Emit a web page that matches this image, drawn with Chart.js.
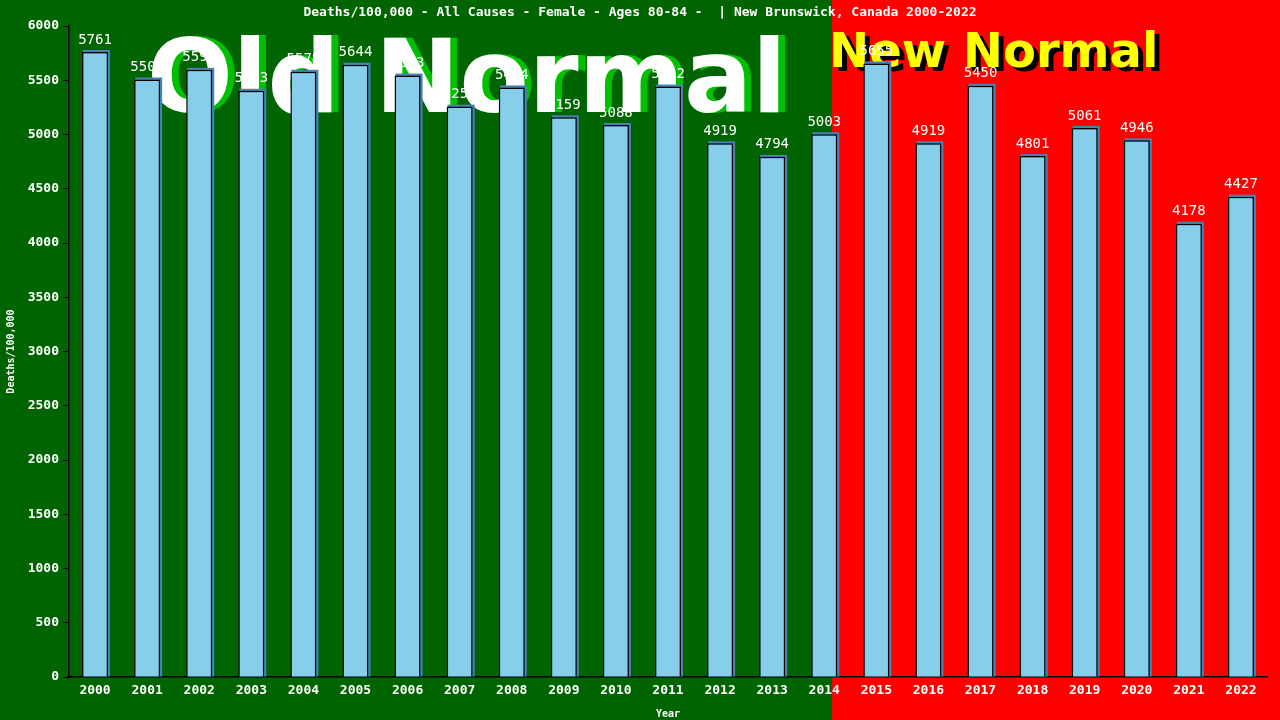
<!DOCTYPE html>
<html><head><meta charset="utf-8">
<script src="https://cdn.jsdelivr.net/npm/chart.js@4"></script>
<style>html,body{margin:0;padding:0;background:#006400;}#w{width:1280px;height:720px;}</style>
</head><body><div id="w"><canvas id="c" width="1280" height="720"></canvas></div>
<script>
const years = ["2000","2001","2002","2003","2004","2005","2006","2007","2008","2009","2010","2011","2012","2013","2014","2015","2016","2017","2018","2019","2020","2021","2022"];
const deaths = [5761,5507,5596,5403,5578,5644,5543,5257,5434,5159,5088,5442,4919,4794,5003,5655,4919,5450,4801,5061,4946,4178,4427];
const yTicks = [0,500,1000,1500,2000,2500,3000,3500,4000,4500,5000,5500,6000];
const titleText = "Deaths/100,000 - All Causes - Female - Ages 80-84 -  | New Brunswick, Canada 2000-2022";
const MONO = "'DejaVu Sans Mono','Liberation Mono',monospace";

const bgPlugin = {
  id:'bg',
  beforeDraw(chart){
    const {ctx} = chart;
    const xs = chart.scales.x;
    const split = xs.getPixelForValue(14) + 0.15*(xs.getPixelForValue(15)-xs.getPixelForValue(14));
    ctx.save();
    ctx.fillStyle='#006400'; ctx.fillRect(0,0,split,chart.height);
    ctx.fillStyle='#FF0000'; ctx.fillRect(split,0,chart.width-split,chart.height);
    ctx.font = "bold 101px 'DejaVu Sans','Verdana',sans-serif";
    ctx.textBaseline='alphabetic'; ctx.textAlign='left';
    ctx.fillStyle='#00C000'; ctx.fillText('Old Normal',154,112);
    ctx.fillStyle='#FFFFFF'; ctx.fillText('Old Normal',147,112);
    ctx.font = "bold 48px 'DejaVu Sans','Verdana',sans-serif";
    ctx.fillStyle='#000000'; ctx.fillText('New Normal',834,71);
    ctx.fillStyle='#FFFF00'; ctx.fillText('New Normal',829,67);
    ctx.font = "bold 13px "+MONO;
    ctx.fillStyle='#FFFFFF'; ctx.textAlign='center'; ctx.textBaseline='middle';
    ctx.fillText(titleText,640,13);
    ctx.restore();
  },
  beforeDatasetsDraw(chart){
    const {ctx} = chart;
    const meta = chart.getDatasetMeta(0);
    ctx.save();
    ctx.fillStyle='#4682B4';
    meta.data.forEach(b=>{
      const w=b.width;
      ctx.fillRect(b.x-w/2+1, b.y-2, w+1, b.base-b.y+2);
    });
    ctx.restore();
  },
  afterDatasetsDraw(chart){
    const {ctx} = chart;
    const meta = chart.getDatasetMeta(0);
    ctx.save();
    ctx.font = "14px "+MONO;
    ctx.fillStyle='#FFFFFF'; ctx.textAlign='center'; ctx.textBaseline='bottom';
    meta.data.forEach((b,i)=>{
      ctx.fillText(String(deaths[i]), b.x, b.y-5);
    });
    ctx.restore();
  }
};

new Chart(document.getElementById('c'),{
  type:'bar',
  data:{labels:years,datasets:[{data:deaths,backgroundColor:'#87CEEB',borderColor:'#000000',borderWidth:1.5,borderSkipped:'bottom',barPercentage:0.5,categoryPercentage:1}]},
  options:{
    responsive:false,animation:false,devicePixelRatio:1,
    layout:{padding:{top:26,right:13,left:5,bottom:0}},
    plugins:{legend:{display:false},tooltip:{enabled:false},title:{display:false}},
    scales:{
      x:{
        grid:{display:false,drawTicks:false},
        border:{color:'#000000',width:1.5},
        ticks:{color:'#FFFFFF',font:{family:MONO,size:13,weight:'bold'},padding:6,maxRotation:0},
        title:{display:true,text:'Year',color:'#FFFFFF',font:{family:MONO,size:10,weight:'bold'},padding:{top:2,bottom:0}},
        afterFit(s){s.height=43;}
      },
      y:{
        min:0,max:6000,
        afterBuildTicks(s){s.ticks=yTicks.map(v=>({value:v}));},
        grid:{display:true,drawOnChartArea:false,drawTicks:true,tickLength:6,color:'#000000'},
        border:{color:'#000000',width:1.5},
        ticks:{color:'#FFFFFF',font:{family:MONO,size:13,weight:'bold'},padding:4,callback:(v)=>String(v)},
        title:{display:true,text:'Deaths/100,000',color:'#FFFFFF',font:{family:MONO,size:10,weight:'bold'},padding:{top:0,bottom:2}},
        afterFit(s){s.width=64;}
      }
    }
  },
  plugins:[bgPlugin]
});
</script></body></html>
